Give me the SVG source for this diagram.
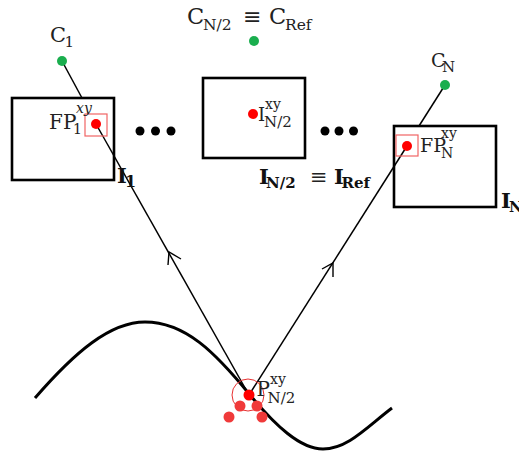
<svg xmlns="http://www.w3.org/2000/svg" width="519" height="456" viewBox="0 0 519 456">
<style>
.box{fill:none;stroke:#000;stroke-width:2.6}
.ln{fill:none;stroke:#000;stroke-width:1.5}
.arr{fill:none;stroke:#000;stroke-width:1.4}
.curve{fill:none;stroke:#000;stroke-width:3}
.cam{fill:#1aae4e}
.fp{fill:#ff0000}
.pt{fill:#f03a3a}
.sq{fill:none;stroke:#f06464;stroke-width:1.2}
.t{font-family:"DejaVu Serif","Liberation Serif",serif;fill:#222}
.b{font-family:"DejaVu Serif","Liberation Serif",serif;font-weight:bold;fill:#111}
</style>
<rect width="519" height="456" fill="#fff"/>
<path class="curve" d="M35,398 C75,352 110,322 145,322 C185,322 215,352 250,395 C275,425 300,449 323,449 C348,449 368,426 392,408"/>
<g id="connectors">
<line class="ln" x1="62" y1="61" x2="82" y2="98"/>
<line class="ln" x1="96" y1="124" x2="249" y2="395"/>
<line class="ln" x1="445" y1="85" x2="419" y2="126"/>
<line class="ln" x1="407" y1="146" x2="249" y2="395"/>
<polyline class="arr" points="168,265 169,252 181,259"/>
<polyline class="arr" points="322,269 333,263 333,277"/>
</g>
<g id="image1">
<rect class="box" x="12" y="98" width="102" height="82"/>
<rect class="sq" x="85" y="114" width="22" height="22"/>
<circle class="fp" cx="96" cy="124" r="5"/>
<text class="t" x="49" y="129" font-size="20">FP</text>
<text class="t" x="73" y="134" font-size="14">1</text>
<text class="t" x="76" y="113" font-size="14" font-style="italic">xy</text>
<text class="b" x="117" y="183" font-size="21">I</text>
<text class="b" x="125" y="187" font-size="16">1</text>
</g>
<g id="camera1">
<circle class="cam" cx="62" cy="61" r="5"/>
<text class="t" x="50" y="42" font-size="21">C</text>
<text class="t" x="64.5" y="47" font-size="15">1</text>
</g>
<g id="dots-left">
<circle cx="140" cy="131" r="4.5"/>
<circle cx="155.5" cy="131" r="4.5"/>
<circle cx="171" cy="131" r="4.5"/>
</g>
<g id="image-ref">
<rect class="box" x="203" y="78" width="102" height="80"/>
<circle class="fp" cx="253" cy="114" r="5"/>
<text class="t" x="258" y="120.5" font-size="18">I</text>
<text class="t" x="265" y="109" font-size="14">xy</text>
<text class="t" x="264" y="126.5" font-size="15">N/2</text>
<text class="b" x="259" y="183.5" font-size="21">I</text>
<text class="b" x="266" y="187.5" font-size="15">N/2</text>
<text class="t" x="310" y="183.5" font-size="21">≡</text>
<text class="b" x="334" y="183.5" font-size="21">I</text>
<text class="b" x="341.5" y="187.5" font-size="15">Ref</text>
</g>
<g id="camera-ref">
<circle class="cam" cx="254" cy="41" r="5"/>
<text class="t" x="187" y="23.5" font-size="22.5">C</text>
<text class="t" x="203" y="29.5" font-size="15.5">N/2</text>
<text class="t" x="243" y="23.5" font-size="22">≡</text>
<text class="t" x="269" y="23.5" font-size="22.5">C</text>
<text class="t" x="285" y="29.5" font-size="15.5">Ref</text>
</g>
<g id="dots-right">
<circle cx="325" cy="131" r="4.5"/>
<circle cx="339" cy="131" r="4.5"/>
<circle cx="353.5" cy="131" r="4.5"/>
</g>
<g id="imageN">
<rect class="box" x="394" y="126" width="102" height="81"/>
<rect class="sq" x="396" y="135" width="22" height="21"/>
<circle class="fp" cx="407" cy="146" r="5"/>
<text class="t" x="420" y="152" font-size="19">FP</text>
<text class="t" x="441" y="137.5" font-size="14">xy</text>
<text class="t" x="441" y="157.5" font-size="14">N</text>
<text class="b" x="501" y="207.5" font-size="21">I</text>
<text class="b" x="509" y="212" font-size="15">N</text>
</g>
<g id="cameraN">
<circle class="cam" cx="445" cy="85" r="5"/>
<text class="t" x="431" y="67" font-size="19">C</text>
<text class="t" x="442" y="72" font-size="15">N</text>
</g>
<g id="point">
<circle cx="248" cy="395" r="16" fill="none" stroke="#e83030" stroke-width="1"/>
<circle class="pt" cx="240" cy="406" r="5.5"/>
<circle class="pt" cx="257" cy="406" r="5.5"/>
<circle class="pt" cx="229" cy="417" r="5.5"/>
<circle class="pt" cx="262" cy="417" r="5.5"/>
<circle class="fp" cx="249" cy="395" r="5.5"/>
<text class="t" x="256.5" y="395.5" font-size="20">P</text>
<text class="t" x="270" y="384" font-size="14">xy</text>
<text class="t" x="267.5" y="403" font-size="15">N/2</text>
</g>
</svg>
